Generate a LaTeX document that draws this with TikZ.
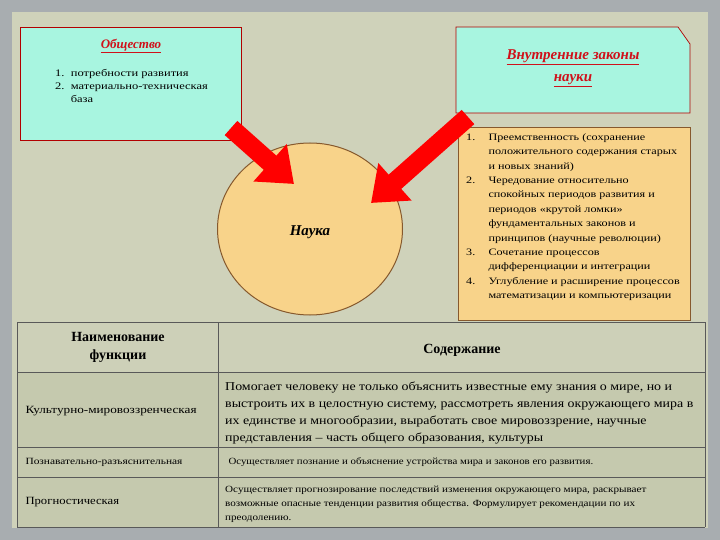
\documentclass[tikz,border=0pt]{standalone}
\usepackage{fontspec}
\usepackage{graphicx}
\setmainfont{Liberation Serif}
\usetikzlibrary{arrows.meta,shapes.geometric}
\definecolor{bgout}{HTML}{A8ADB0}
\definecolor{panel}{HTML}{CFD2BA}
\definecolor{aqua}{HTML}{A8F5E0}
\definecolor{orng}{HTML}{F8D38A}
\definecolor{tbl}{HTML}{C5C9AE}
\definecolor{tblh}{HTML}{CDD0B8}
\definecolor{ttl}{HTML}{D0101A}
\tikzset{
  txt/.style={anchor=north west, inner sep=0pt, align=left},
  cell/.style={draw=gray!70!black, line width=0.8pt},
  barr/.style={red, line width=19pt, -{Triangle[length=32pt,width=48pt]}}
}
\begin{document}
\begin{tikzpicture}[x=1pt,y=-1pt]
\fill[bgout] (0,0) rectangle (720,540);
\fill[panel] (12,12) rectangle (708,528);
% boxes
\draw[fill=aqua, draw=red!70!black, line width=0.7pt] (20,27) rectangle (241,140);
\draw[fill=aqua, draw=red!70!black, line width=0.7pt] (456,27) -- (678,27) -- (690,44) -- (690,113) -- (456,113) -- cycle;
\node[draw=brown!70!black, line width=1pt, fill=orng, ellipse, minimum width=185, minimum height=172, inner sep=0] (circ) at (310,229) {};
\node[draw=brown!70!black, line width=1.2pt, fill=orng, minimum width=232, minimum height=193, anchor=north west, inner sep=0] (rbox) at (458,127) {};
% texts
\node[font=\fontsize{13}{15}\selectfont\bfseries\itshape, text=ttl] (soc) at (131,46) {\underline{Общество}};
\node[txt, font=\fontsize{10}{13}\selectfont] (slist) at (55,67) {\scalebox{1.25}[1]{\begin{tabular}{@{}l@{\hspace{5pt}}l@{}}1.&потребности развития\\2.&материально-техническая\\&база\end{tabular}}};
\node[font=\fontsize{15}{22}\selectfont\bfseries\itshape, text=ttl, align=center] (laws) at (573,68) {\underline{Внутренние законы}\\\underline{науки}};
\node[font=\fontsize{15}{17}\selectfont\bfseries\itshape] (nauka) at (310,232) {Наука};
\node[txt, font=\fontsize{9.8}{14.4}\selectfont] (rl) at (466,130) {\scalebox{1.24}[1]{%
\begin{tabular}{@{}p{16pt}@{\hspace{2pt}}l@{}}
1. & Преемственность (сохранение\\
   & положительного содержания старых\\
   & и новых знаний)\\
2. & Чередование относительно\\
   & спокойных периодов развития и\\
   & периодов «крутой ломки»\\
   & фундаментальных законов и\\
   & принципов (научные революции)\\
3. & Сочетание процессов\\
   & дифференциации и интеграции\\
4. & Углубление и расширение процессов\\
   & математизации и компьютеризации
\end{tabular}}};
% arrows
\coordinate (a1) at (231,128); \coordinate (a2) at (468,117);
\draw[barr] (a1) -- (294,184);
\draw[barr] (a2) -- (371,203);
% table
\fill[tbl] (17,322) rectangle (705,527);
\fill[tblh] (17,322) rectangle (705,372);
\foreach \y in {322,372,447,477,527} \draw[cell] (17,\y) -- (705,\y);
\draw[cell] (17,322) -- (17,527); \draw[cell] (218,322) -- (218,527); \draw[cell] (705,322) -- (705,527);
\node[font=\fontsize{14}{18}\selectfont\bfseries, align=center] (h1) at (118,347) {Наименование\\функции};
\node[font=\fontsize{14}{18}\selectfont\bfseries] (h2) at (462,350) {Содержание};
\node[font=\fontsize{11}{13}\selectfont, anchor=west] (c1) at (22,411) {\scalebox{1.2}[1]{Культурно-мировоззренческая}};
\node[txt, font=\fontsize{12}{17}\selectfont] (d1) at (225,378) {\scalebox{1.16}[1]{\begin{tabular}{@{}l@{}}Помогает человеку не только объяснить известные ему знания о мире, но и\\выстроить их в целостную систему, рассмотреть явления окружающего мира в\\их единстве и многообразии, выработать свое мировоззрение, научные\\представления – часть общего образования, культуры\end{tabular}}};
\node[font=\fontsize{9.5}{11}\selectfont, anchor=west] (c2) at (22,462) {\scalebox{1.2}[1]{Познавательно-разъяснительная}};
\node[font=\fontsize{9.5}{11}\selectfont, anchor=west] (d2) at (225,462) {\scalebox{1.14}[1]{Осуществляет познание и объяснение устройства мира и законов его развития.}};
\node[font=\fontsize{11}{13}\selectfont, anchor=west] (c3) at (22,502) {\scalebox{1.15}[1]{Прогностическая}};
\node[txt, font=\fontsize{9.5}{14}\selectfont] (d3) at (225,482) {\scalebox{1.17}[1]{\begin{tabular}{@{}l@{}}Осуществляет прогнозирование последствий изменения окружающего мира, раскрывает\\возможные опасные тенденции развития общества. Формулирует рекомендации по их\\преодолению.\end{tabular}}};
\end{tikzpicture}
\end{document}
